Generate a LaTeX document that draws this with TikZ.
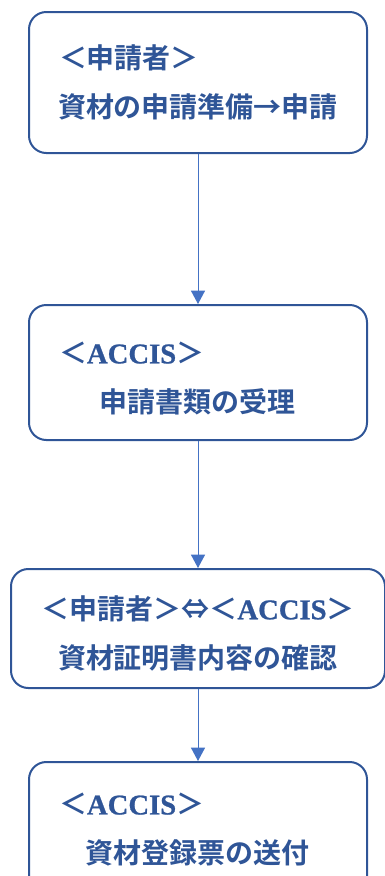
\documentclass[tikz,border=0pt]{standalone}
\usepackage{fontspec}
\newfontfamily\latinfont{Liberation Serif}[FakeBold=0.8]
\newfontfamily\jpfont{Noto Sans CJK JP}[BoldFont={Noto Sans CJK JP Bold}]
\usetikzlibrary{arrows.meta}
\definecolor{flowblue}{HTML}{2F5597}
\definecolor{arrowblue}{HTML}{4472C4}
\newcommand{\accis}{{\fontsize{21.5}{36.75}\selectfont\latinfont ACCIS}}
\tikzset{
  stepbox/.style={draw=flowblue, line width=1.5pt, rounded corners=13pt, align=center,
    text=flowblue, inner sep=0pt,
    font=\fontsize{21}{36.75}\selectfont\jpfont\bfseries},
  flow/.style={arrowblue, line width=0.75pt, -{Triangle[width=10.5pt,length=10pt]}}
}
\begin{document}
\begin{tikzpicture}[x=0.75pt, y=-0.75pt]
  \useasboundingbox (0,0) rectangle (385,876);
  % applicant
  \node[stepbox, minimum width=253.5pt, minimum height=105.75pt] (apply) at (198,82.5)
    {\makebox[208.5pt][l]{＜申請者＞}\\資材の申請準備→申請};
  % ACCIS receives
  \node[stepbox, minimum width=253.5pt, minimum height=101.25pt] (accept) at (198,372.5)
    {\rule{0pt}{25pt}\makebox[208.5pt][l]{＜\accis＞}\\申請書類の受理};
  % both sides check
  \node[stepbox, minimum width=280.5pt, minimum height=89.25pt] (check) at (198,628.5)
    {\rule{0pt}{25pt}＜申請者＞⇔＜\accis＞\\資材証明書内容の確認};
  % ACCIS sends
  \node[stepbox, minimum width=253.5pt, minimum height=101.25pt] (send) at (198,829.5)
    {\makebox[208.5pt][l]{＜\accis＞}\\資材登録票の送付};
  \draw[flow] (apply) -- (accept);
  \draw[flow] (accept) -- (check);
  \draw[flow] (check) -- (send);
\end{tikzpicture}
\end{document}
